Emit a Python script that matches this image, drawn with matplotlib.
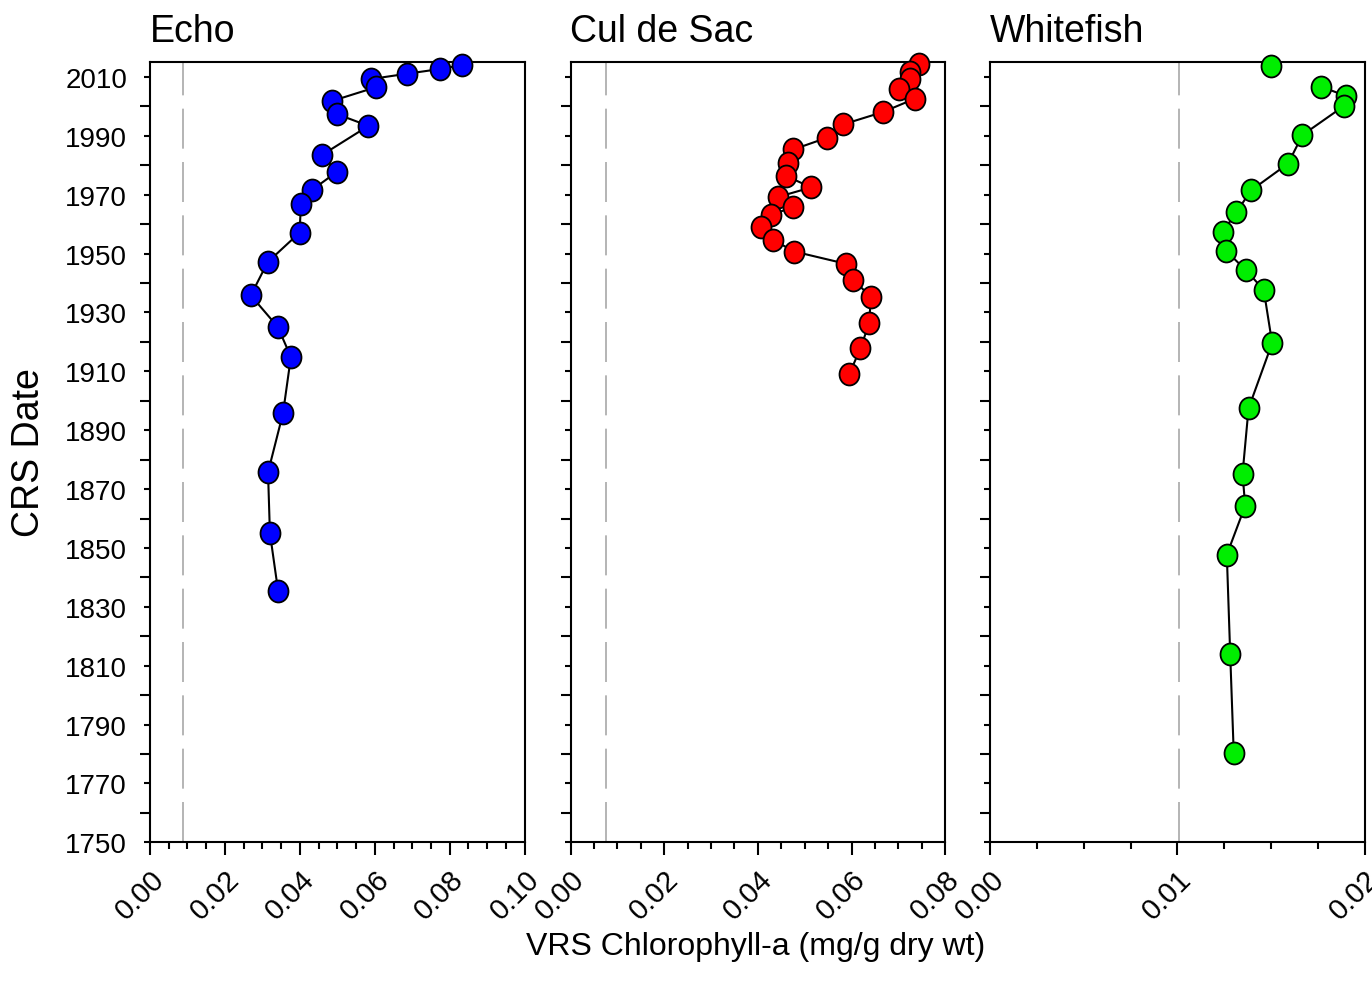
import matplotlib
matplotlib.use("Agg")
import matplotlib.pyplot as plt
import matplotlib.ticker as mticker
from matplotlib.path import Path
from matplotlib.transforms import Affine2D, ScaledTranslation

OUT = "out.png"

# core profiles: CRS year vs VRS chlorophyll-a (mg/g dry wt)
echo_year = [2014.1, 2012.7, 2011.1, 2009.3, 2006.5, 2001.9, 1997.4, 1993.4,
             1983.5, 1977.8, 1971.7, 1966.9, 1957.1, 1947.1, 1935.8, 1925.1,
             1914.9, 1895.8, 1875.7, 1855.1, 1835.3]
echo_chl = [0.0834, 0.0773, 0.0685, 0.0589, 0.0602, 0.0487, 0.0499, 0.0583,
            0.0459, 0.0499, 0.0433, 0.0403, 0.0399, 0.0314, 0.0269, 0.0341,
            0.0376, 0.0355, 0.0315, 0.0320, 0.0342]

cds_year = [2014.4, 2011.8, 2009.2, 2005.8, 2002.7, 1998.1, 1993.9, 1989.4,
            1985.4, 1980.9, 1976.4, 1972.5, 1969.3, 1965.9, 1963.1, 1958.9,
            1954.7, 1950.7, 1946.5, 1941.1, 1935.3, 1926.5, 1917.8, 1909.0]
cds_chl = [0.0743, 0.0725, 0.0725, 0.0702, 0.0736, 0.0667, 0.0582, 0.0548,
           0.0476, 0.0464, 0.0460, 0.0514, 0.0444, 0.0475, 0.0429, 0.0406,
           0.0432, 0.0478, 0.0589, 0.0604, 0.0641, 0.0638, 0.0619, 0.0595]

wf_year = [2013.7, 2006.7, 2003.5, 2000.2, 1990.3, 1980.6, 1971.5, 1964.0,
           1957.4, 1951.0, 1944.5, 1937.7, 1919.6, 1897.4, 1875.2, 1864.3,
           1847.7, 1814.1, 1780.3]
wf_chl = [0.01499, 0.01769, 0.01902, 0.01890, 0.01668, 0.01591, 0.01394,
          0.01314, 0.01243, 0.01259, 0.01364, 0.01461, 0.01506, 0.01380,
          0.01348, 0.01362, 0.01264, 0.01282, 0.01301]

# dashed reference level for each lake
ref_level = [0.0089, 0.0076, 0.0101]

panels = [
    # name, years, values, colour, xmax, major, minor, ref, first point joined
    ("Echo", echo_year, echo_chl, "#0000FF", 0.10, 0.02, 0.005, ref_level[0], 0),
    ("Cul de Sac", cds_year, cds_chl, "#FF0000", 0.08, 0.02, 0.005, ref_level[1], 0),
    ("Whitefish", wf_year, wf_chl, "#00EE00", 0.02, 0.01, 0.0025, ref_level[2], 1),
]

plt.rcParams["font.family"] = ["Liberation Sans", "DejaVu Sans"]

W, H = 1372, 987
fig = plt.figure(figsize=(W / 100, H / 100), dpi=100)

# slightly tall circle, as the marker
oval = Path.unit_circle().transformed(Affine2D().scale(1.0, 1.1))

lefts = [150, 570.5, 990]
bottom, top = 843.3, 63.3
pw = 374.7

for i, (name, yrs, vals, col, xmax, major, minor, ref, start) in enumerate(panels):
    ax = fig.add_axes([lefts[i] / W, 1 - bottom / H, pw / W, (bottom - top) / H])
    ax.set_xlim(0, xmax)
    ax.set_ylim(1750, 2015)

    ax.plot([ref, ref], [1750, 2015], color="#a8a8a8", lw=1.2,
            dashes=(24, 8), zorder=1)
    ax.plot(vals[start:], yrs[start:], color="black", lw=1.5, zorder=2)
    ax.plot(vals, yrs, ls="none", marker=oval, ms=15.8, mfc=col,
            mec="black", mew=1.3, zorder=3, clip_on=False)

    for s in ax.spines.values():
        s.set_linewidth(1.5)

    ax.xaxis.set_major_locator(mticker.MultipleLocator(major))
    ax.xaxis.set_minor_locator(mticker.MultipleLocator(minor))
    ax.xaxis.set_major_formatter(mticker.FormatStrFormatter("%.2f"))
    ax.yaxis.set_major_locator(mticker.MultipleLocator(20, offset=10))
    ax.yaxis.set_minor_locator(mticker.MultipleLocator(10))

    ax.tick_params(axis="x", which="major", direction="out", length=9,
                   width=1.5, labelsize=21, pad=7)
    ax.tick_params(axis="x", which="minor", direction="out", length=5, width=1.5)
    ax.tick_params(axis="y", which="major", direction="out", length=4.5,
                   width=1.5, labelsize=20, pad=12)
    ax.tick_params(axis="y", which="minor", direction="out", length=7, width=1.5)

    if i > 0:
        ax.tick_params(axis="y", labelleft=False)

    shift = ScaledTranslation(0, 0, fig.dpi_scale_trans)
    for lab in ax.get_xticklabels():
        lab.set_rotation(45)
        lab.set_ha("right")
        lab.set_va("top")
        lab.set_rotation_mode("anchor")
        lab.set_transform(lab.get_transform() + shift)

    ax.set_title(name, loc="left", fontsize=27, pad=15)

fig.text(29 / W, 1 - 453 / H, "CRS Date", rotation=90, fontsize=27,
         ha="center", va="center")
fig.text(755.5 / W, 1 - 955 / H, "VRS Chlorophyll-a (mg/g dry wt)",
         fontsize=23, ha="center", va="baseline")

fig.savefig(OUT, dpi=100)
